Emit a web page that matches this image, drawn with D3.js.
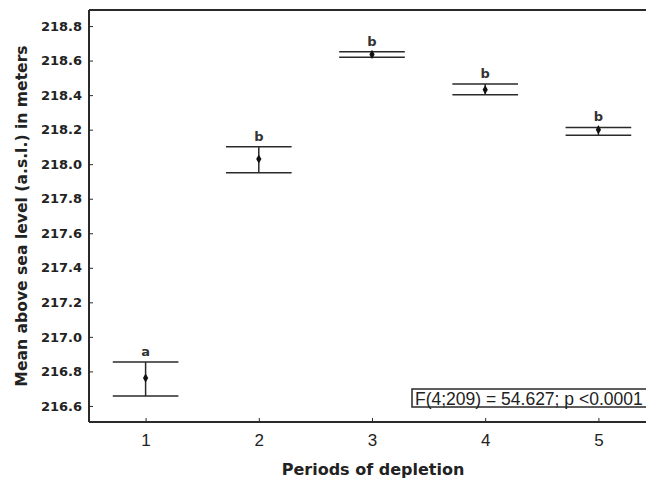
<!DOCTYPE html>
<html>
<head>
<meta charset="utf-8">
<script src="https://cdn.jsdelivr.net/npm/d3@7"></script>
<style>
  body { margin: 0; background: #fff; }
  svg { display: block; font-family: "Liberation Sans", Arial, sans-serif; }
  .bold { font-family: "DejaVu Sans", Verdana, sans-serif; font-weight: bold; }
</style>
</head>
<body>
<div id="chart"></div>
<script>
// values
let periods = [1, 2, 3, 4, 5];
let means   = [216.762, 218.030, 218.636, 218.431, 218.200];
let upper   = [216.854, 218.101, 218.651, 218.464, 218.213];
let lower   = [216.657, 217.951, 218.620, 218.402, 218.167];
let letters = ["a", "b", "b", "b", "b"];
let yTicks  = [216.6, 216.8, 217.0, 217.2, 217.4, 217.6, 217.8, 218.0, 218.2, 218.4, 218.6, 218.8];
let statText = "F(4;209) = 54.627; p <0.0001";

let width = 646, height = 481;
let plotLeft = 89, plotTop = 10, plotBottom = 422, plotRight = 655;

let xScale = d3.scaleLinear().domain([0.5, 5.5]).range([plotLeft, plotRight]);
let yScale = d3.scaleLinear().domain([216.507, 218.893]).range([plotBottom, plotTop]);

let svg = d3.select("#chart")
  .append("svg")
  .attr("width", width)
  .attr("height", height);

let ink = "#2a2a2a";

// frame: top line
svg.append("line")
  .attr("x1", plotLeft).attr("x2", width)
  .attr("y1", plotTop).attr("y2", plotTop)
  .attr("stroke", ink).attr("stroke-width", 2);

// y axis
let yAxis = svg.append("g")
  .attr("transform", "translate(" + plotLeft + ",0)")
  .call(d3.axisLeft(yScale)
    .tickValues(yTicks)
    .tickFormat(d3.format(".1f"))
    .tickSizeInner(-4)
    .tickSizeOuter(0)
    .tickPadding(7));
yAxis.select(".domain").attr("stroke", ink).attr("stroke-width", 2)
  .attr("d", "M0," + plotTop + "V" + plotBottom);
yAxis.selectAll(".tick line").attr("stroke", ink);
yAxis.selectAll("text")
  .attr("class", "bold")
  .attr("fill", "#222")
  .style("font-size", "13px");

// x axis
let xAxis = svg.append("g")
  .attr("transform", "translate(0," + plotBottom + ")")
  .call(d3.axisBottom(xScale)
    .tickValues(periods)
    .tickFormat(d3.format("d"))
    .tickSizeInner(-4)
    .tickSizeOuter(0)
    .tickPadding(12));
xAxis.select(".domain").attr("stroke", ink).attr("stroke-width", 2)
  .attr("d", "M" + plotLeft + ",0H" + width);
xAxis.selectAll(".tick line").attr("stroke", ink);
xAxis.selectAll("text")
  .attr("fill", "#222")
  .style("font-size", "17px");

// error bars
let rows = periods.map(function(p, i) {
  return { p: p, m: means[i], hi: upper[i], lo: lower[i], lab: letters[i] };
});
let capHalf = 0.29;

let g = svg.append("g")
  .selectAll("g")
  .data(rows)
  .enter()
  .append("g");

g.append("line")
  .attr("x1", function(d) { return xScale(d.p); })
  .attr("x2", function(d) { return xScale(d.p); })
  .attr("y1", function(d) { return yScale(d.lo); })
  .attr("y2", function(d) { return yScale(d.hi); })
  .attr("stroke", ink).attr("stroke-width", 1.5);

["hi", "lo"].forEach(function(k) {
  g.append("line")
    .attr("x1", function(d) { return xScale(d.p - capHalf); })
    .attr("x2", function(d) { return xScale(d.p + capHalf); })
    .attr("y1", function(d) { return yScale(d[k]); })
    .attr("y2", function(d) { return yScale(d[k]); })
    .attr("stroke", ink).attr("stroke-width", 1.5);
});

g.append("path")
  .attr("transform", function(d) {
    return "translate(" + xScale(d.p) + "," + yScale(d.m) + ")";
  })
  .attr("d", d3.symbol().type(d3.symbolDiamond).size(24))
  .attr("fill", "#111");

g.append("text")
  .attr("class", "bold")
  .attr("x", function(d) { return xScale(d.p); })
  .attr("y", function(d) { return yScale(d.hi) - 6; })
  .attr("text-anchor", "middle")
  .attr("fill", "#333")
  .style("font-size", "13px")
  .text(function(d) { return d.lab; });

// statistic box
svg.append("rect")
  .attr("x", 412).attr("y", 389)
  .attr("width", 250).attr("height", 18)
  .attr("fill", "#fff")
  .attr("stroke", ink).attr("stroke-width", 1.5);
svg.append("text")
  .attr("x", 415).attr("y", 405)
  .attr("fill", "#222")
  .style("font-size", "17.5px")
  .text(statText);

// axis titles
svg.append("text")
  .attr("class", "bold")
  .attr("transform", "translate(27,216) rotate(-90)")
  .attr("text-anchor", "middle")
  .attr("fill", "#222")
  .style("font-size", "15.6px")
  .text("Mean above sea level (a.s.l.) in meters");

svg.append("text")
  .attr("class", "bold")
  .attr("x", 373).attr("y", 475)
  .attr("text-anchor", "middle")
  .attr("fill", "#222")
  .style("font-size", "16px")
  .text("Periods of depletion");
</script>
</body>
</html>
